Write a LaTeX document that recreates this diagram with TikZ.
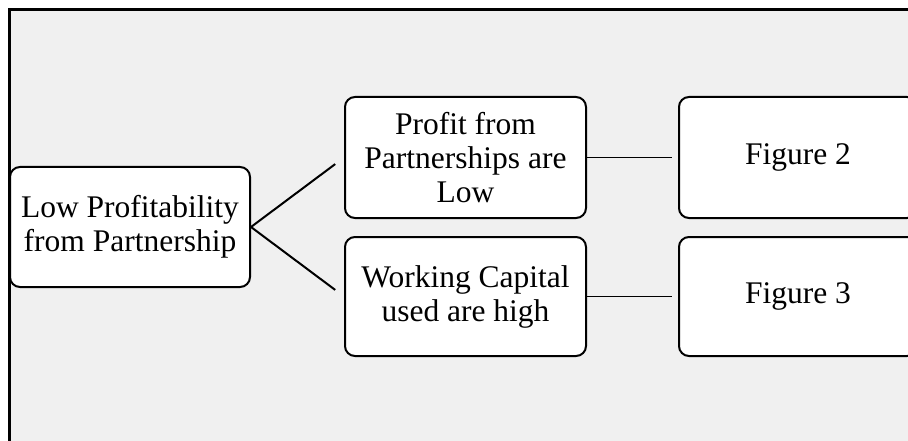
\documentclass[tikz,border=0pt]{standalone}
\usepackage{fontspec}
\setmainfont{Liberation Serif}
\usepackage{tikz}
\usetikzlibrary{positioning}
\definecolor{panelgray}{HTML}{F0F0F0}
\tikzset{
  box/.style={draw=black, line width=2pt, fill=white, rounded corners=10pt,
    align=center, inner sep=0pt, minimum width=240pt, minimum height=120pt,
    font=\fontsize{31.5}{34}\selectfont},
  branch/.style={line width=2pt, shorten >=11pt},
  link/.style={line width=1.2pt, shorten >=6pt},
}

\begin{document}
\begin{tikzpicture}[x=1pt,y=-1pt]
      \useasboundingbox (0,0) rectangle (908,441);
      \clip (0,0) rectangle (908,441);

      % Grey panel, its right and bottom edges run off the page
      \draw[fill=panelgray, line width=3pt] (9.5,9.5) rectangle (930,460);

      % Main cause on the left
      \node[box] (root) at (130,227) {Low Profitability\\from Partnership};

      % The two reasons
      \node[box, minimum width=241pt, minimum height=121pt] (profit) at (465.5,157.5) {Profit from\\Partnerships are\\Low};
      \node[box, minimum width=241pt, minimum height=119pt] (capital) at (465.5,296.5) {Working Capital\\used are high};

      % Figure boxes, cut off at the right edge
      \node[box, minimum width=238pt, minimum height=121pt] (fig2) at (798,157.5) {Figure 2};
      \node[box, minimum width=238pt, minimum height=119pt] (fig3) at (798,296.5) {Figure 3};

      % Branches from the main cause
      \draw[branch] (root.east) -- (profit.west);
      \draw[branch] (root.east) -- (capital.west);

      % Links to the figures
      \draw[link] (profit.east) -- (fig2.west);
      \draw[link] (capital.east) -- (fig3.west);
\end{tikzpicture}
\end{document}
